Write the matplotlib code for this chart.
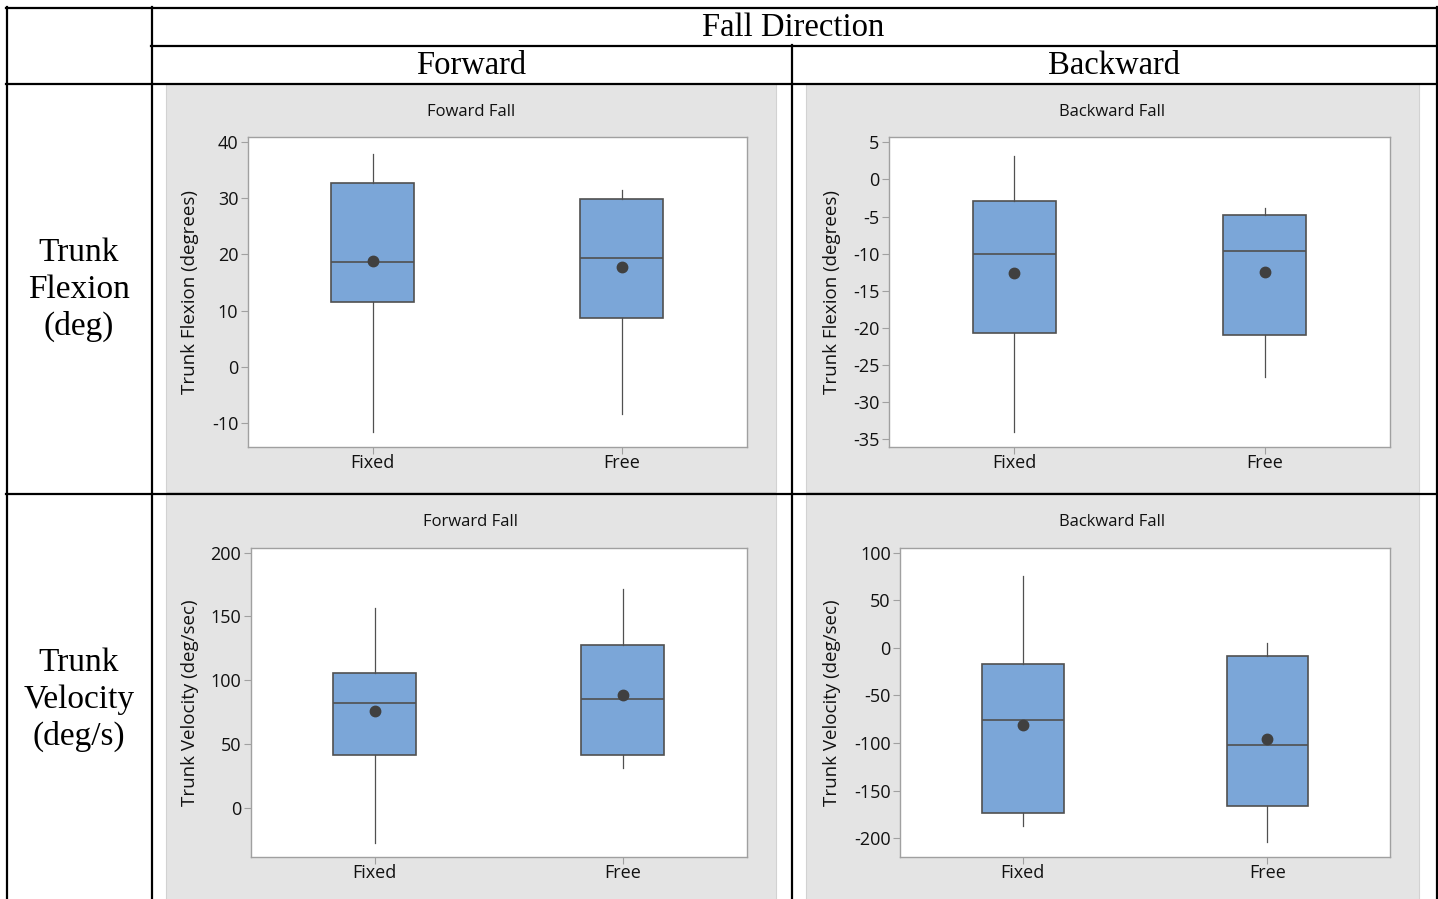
import matplotlib
matplotlib.use("Agg")
import matplotlib.pyplot as plt
from matplotlib.lines import Line2D
from matplotlib.patches import Rectangle

plt.rcParams['axes.unicode_minus'] = False

W, H = 1438, 899

groups = ["Fixed", "Free"]

# whisker low, Q1, median, Q3, whisker high, mean
flexion_forward_fixed = [-11.5, 11.6, 18.6, 32.7, 37.9, 18.8]
flexion_forward_free = [-8.4, 8.7, 19.3, 29.9, 31.4, 17.8]
flexion_backward_fixed = [-34.0, -20.7, -10.1, -2.9, 3.2, -12.6]
flexion_backward_free = [-26.6, -21.0, -9.6, -4.75, -3.8, -12.5]
velocity_forward_fixed = [-27.2, 41.3, 82.0, 105.7, 156.4, 76.0]
velocity_forward_free = [31.6, 41.3, 85.4, 127.4, 171.5, 88.5]
velocity_backward_fixed = [-187.0, -173.4, -75.4, -17.2, 75.5, -81.0]
velocity_backward_free = [-203.5, -165.7, -101.6, -8.5, 5.5, -95.3]

flexion_forward_ticks = [-10, 0, 10, 20, 30, 40]
flexion_backward_ticks = [-35, -30, -25, -20, -15, -10, -5, 0, 5]
velocity_forward_ticks = [0, 50, 100, 150, 200]
velocity_backward_ticks = [-200, -150, -100, -50, 0, 50, 100]

col_headers = ["Forward", "Backward"]
row_headers = ["Trunk\nFlexion\n(deg)", "Trunk\nVelocity\n(deg/s)"]

BOX_BLUE = "#7BA6D8"
DARK = "#505050"
TXT = "#111111"
SANS = "Open Sans"
SERIF = "Liberation Serif"


def fx(x):
    return x / W


def fy(y):
    return 1 - y / H


def hline(fig, y, x0, x1):
    fig.add_artist(Line2D([fx(x0), fx(x1)], [fy(y), fy(y)], color="black", lw=1.6))


def vline(fig, x, y0, y1):
    fig.add_artist(Line2D([fx(x), fx(x)], [fy(y0), fy(y1)], color="black", lw=1.6))


def box_stats(vals):
    lo, q1, med, q3, hi, mean = vals
    return dict(whislo=lo, q1=q1, med=med, q3=q3, whishi=hi, mean=mean, fliers=[])


def panel(fig, rect_px, ax_px, title, ylabel, ylab_x, series, ylim, yticks):
    x0, x1, y0, y1 = rect_px
    # grey Minitab background behind the axes
    fig.add_artist(Rectangle((fx(x0), fy(y1)), fx(x1) - fx(x0), fy(y0) - fy(y1),
                             facecolor="#E4E4E4", edgecolor="#D2D2D2", lw=0.8, zorder=-1))
    l, r, t, b = ax_px
    ax = fig.add_axes([fx(l), fy(b), fx(r) - fx(l), fy(t) - fy(b)])
    ax.set_facecolor("white")
    stats = [box_stats(s) for s in series]
    ax.bxp(stats, positions=[1, 2], widths=0.334, showmeans=True, showfliers=False,
           showcaps=False, patch_artist=True,
           boxprops=dict(facecolor=BOX_BLUE, edgecolor=DARK, lw=1.2),
           medianprops=dict(color=DARK, lw=1.2),
           whiskerprops=dict(color=DARK, lw=0.9),
           meanprops=dict(marker="o", markerfacecolor="#404040", markeredgecolor="#404040",
                          markersize=7.5))
    ax.set_xlim(0.5, 2.5)
    ax.set_ylim(*ylim)
    ax.set_yticks(yticks)
    ax.set_xticks([1, 2])
    ax.set_xticklabels(groups)
    for sp in ax.spines.values():
        sp.set_color("#A0A0A0")
        sp.set_linewidth(1.0)
    ax.tick_params(axis="both", direction="out", length=5, width=0.8, color="#A0A0A0",
                   labelsize=13, labelcolor=TXT, pad=2)
    ax.tick_params(axis="x", pad=0)
    for lab in ax.get_xticklabels() + ax.get_yticklabels():
        lab.set_family(SANS)
        lab.set_weight(500)
    fig.text(fx((x0 + x1) / 2), fy(y0 + 28), title, ha="center", va="center",
             fontsize=12, family=SANS, weight=500, color=TXT)
    fig.text(fx(ylab_x), fy((t + b) / 2), ylabel, rotation=90, ha="center", va="center",
             fontsize=13.5, family=SANS, weight=500, color=TXT)
    return ax


fig = plt.figure(figsize=(W / 100, H / 100), dpi=100)

# table grid
hline(fig, 7.5, 6, 1437)
hline(fig, 45.5, 151, 1437)
hline(fig, 83.5, 6, 1437)
hline(fig, 493.5, 6, 1437)
vline(fig, 6.5, 7, 899)
vline(fig, 151.5, 7, 899)
vline(fig, 791.7, 45, 899)
vline(fig, 1436.5, 7, 899)

fig.text(fx(793), fy(28), "Fall Direction", ha="center", va="center", fontsize=23.5, family=SERIF)
fig.text(fx(471), fy(66), col_headers[0], ha="center", va="center", fontsize=23.5, family=SERIF)
fig.text(fx(1114), fy(66), col_headers[1], ha="center", va="center", fontsize=23.5, family=SERIF)
fig.text(fx(79), fy(290), row_headers[0], ha="center", va="center", fontsize=24,
         family=SERIF, linespacing=1.25)
fig.text(fx(79), fy(700), row_headers[1], ha="center", va="center", fontsize=24,
         family=SERIF, linespacing=1.25)

panel(fig, (165.8, 775.7, 84, 492), (248, 746.5, 137.3, 447), "Foward Fall",
      "Trunk Flexion (degrees)", 190,
      [flexion_forward_fixed, flexion_forward_free], (-14.2, 40.8), flexion_forward_ticks)
panel(fig, (806, 1419, 84, 492), (889.2, 1389.8, 137.3, 447), "Backward Fall",
      "Trunk Flexion (degrees)", 832,
      [flexion_backward_fixed, flexion_backward_free], (-36.04, 5.67), flexion_backward_ticks)
panel(fig, (165.8, 775.7, 494.3, 905), (250.9, 746.8, 548.3, 857.3), "Forward Fall",
      "Trunk Velocity (deg/sec)", 190,
      [velocity_forward_fixed, velocity_forward_free], (-38.6, 203.4), velocity_forward_ticks)
panel(fig, (806, 1419, 494.3, 905), (900.4, 1389.8, 548.3, 857.3), "Backward Fall",
      "Trunk Velocity (deg/sec)", 832,
      [velocity_backward_fixed, velocity_backward_free], (-220, 104.6), velocity_backward_ticks)

fig.savefig("out.png", dpi=100)
